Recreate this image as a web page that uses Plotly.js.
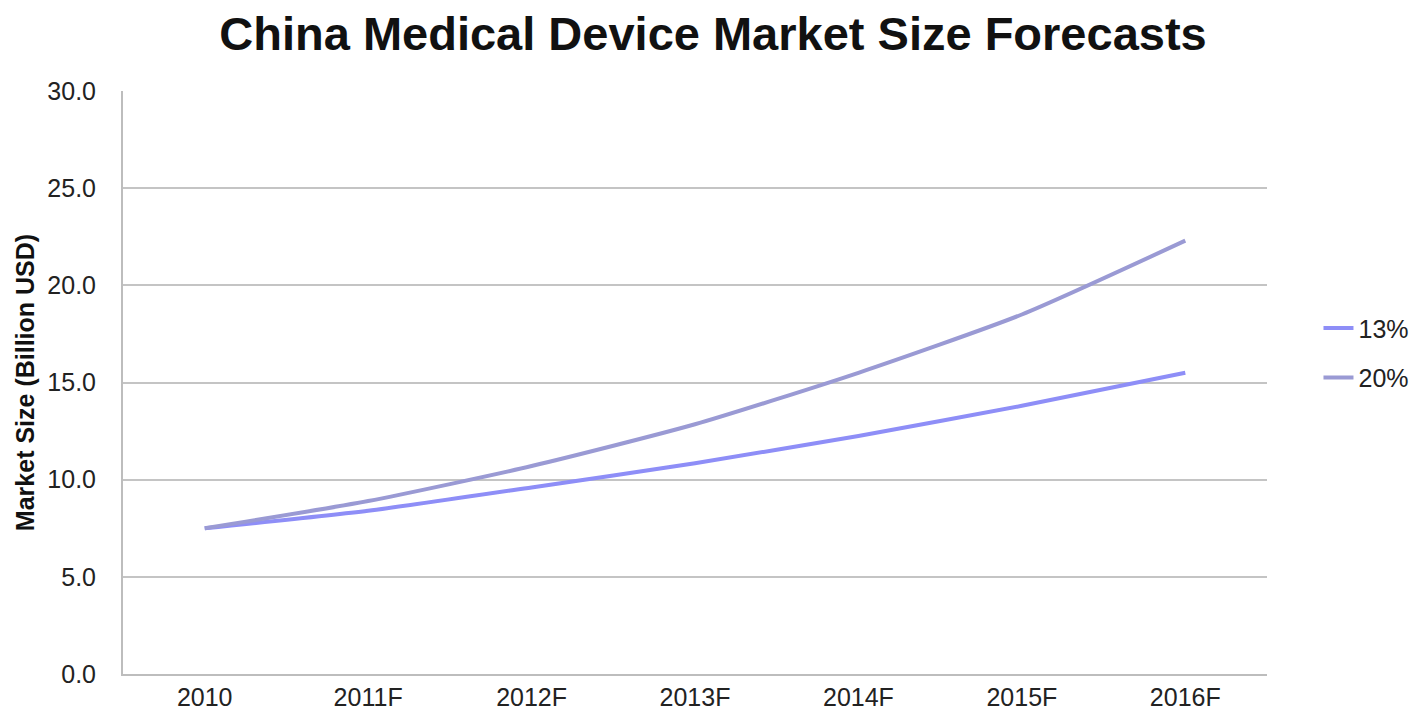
<!DOCTYPE html>
<html>
<head>
<meta charset="utf-8">
<script src="https://cdn.plot.ly/plotly-3.0.1.min.js"></script>
<style>html,body{margin:0;padding:0;background:#fff;}#chart{width:1426px;height:719px;}</style>
</head>
<body>
<div id="chart"></div>
<script>
const categories = ["2010", "2011F", "2012F", "2013F", "2014F", "2015F", "2016F"];
const growth13 = [7.5, 8.4, 9.6, 10.85, 12.25, 13.8, 15.5];
const growth20 = [7.5, 8.9, 10.7, 12.85, 15.5, 18.5, 22.3];
const seriesNames = ["13%", "20%"];
const yTicks = [0, 5, 10, 15, 20, 25, 30];

const traces = [
  {x: categories, y: growth13, name: seriesNames[0], legendgroup: "g13", type: "scatter", mode: "lines",
   line: {color: "#8e8ef7", width: 4, shape: "spline", smoothing: 0.6}},
  {x: categories, y: growth20, name: seriesNames[1], legendgroup: "g20", type: "scatter", mode: "lines",
   line: {color: "#9a9ad4", width: 4, shape: "spline", smoothing: 0.6}}
];

const layout = {
  width: 1426, height: 719,
  margin: {l: 123, r: 156, t: 91, b: 45},
  paper_bgcolor: "#fff", plot_bgcolor: "#fff",
  font: {family: "Liberation Sans, Arial, sans-serif", color: "#222"},
  title: {text: "<b>China Medical Device Market Size Forecasts</b>", x: 0.5, xanchor: "center", y: 0.953, yanchor: "middle",
          font: {size: 47, color: "#111", family: "Liberation Sans, Arial, sans-serif"}},
  xaxis: {type: "category", range: [-0.5, 6.5], showgrid: false, showline: true, linecolor: "#bdbdbd", linewidth: 2,
          ticks: "", tickfont: {size: 25, color: "#222"}, zeroline: false, fixedrange: true},
  yaxis: {range: [0, 30], tickvals: yTicks, ticktext: yTicks.map(v => v.toFixed(1)), showgrid: true, gridcolor: "#c4c4c4", gridwidth: 2,
          showline: true, linecolor: "#bdbdbd", linewidth: 2, ticks: "", ticklabelstandoff: 20,
          tickfont: {size: 25, color: "#222"}, zeroline: false,
          title: {text: "<b>Market Size (Billion USD)</b>", font: {size: 25, color: "#111"}, standoff: 6}},
  legend: {x: 1.045, y: 0.551, xanchor: "left", yanchor: "middle", font: {size: 25, color: "#222"},
           bgcolor: "rgba(0,0,0,0)", tracegroupgap: 14},
  showlegend: true
};

Plotly.newPlot("chart", traces, layout, {displayModeBar: false, staticPlot: true});
</script>
</body>
</html>
